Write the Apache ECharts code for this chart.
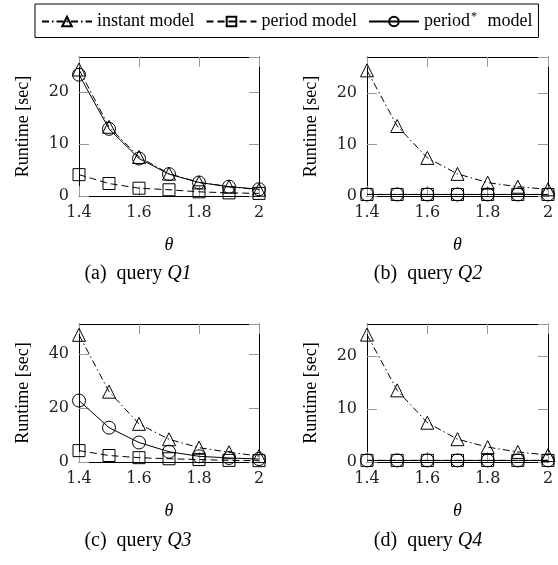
<!DOCTYPE html>
<html>
<head>
<meta charset="utf-8">
<script src="https://cdn.jsdelivr.net/npm/echarts@6/dist/echarts.min.js"></script>
<style>html,body{margin:0;padding:0;background:#fff}#c{width:558px;height:565px}</style>
</head>
<body>
<div id="c"></div>
<script>
const thetas = [1.4, 1.5, 1.6, 1.7, 1.8, 1.9, 2.0];
const xTickLabels = ['1.4', '1.6', '1.8', '2'];
const seriesNames = ['instant model', 'period model', 'period* model'];

const q1Instant    = [24.3, 13.3, 7.5, 4.3, 2.6, 1.8, 1.2];
const q1Period     = [4.1, 2.4, 1.5, 1.2, 0.8, 0.6, 0.5];
const q1PeriodStar = [23.3, 12.9, 7.2, 4.2, 2.6, 1.8, 1.3];

const q2Instant    = [24.4, 13.6, 7.4, 4.3, 2.6, 1.8, 1.3];
const q2Period     = [0.3, 0.3, 0.3, 0.3, 0.3, 0.3, 0.3];
const q2PeriodStar = [0.3, 0.3, 0.3, 0.3, 0.3, 0.3, 0.3];

const q3Instant    = [47.0, 26.0, 14.1, 8.4, 5.3, 3.6, 2.2];
const q3Period     = [4.2, 2.4, 1.6, 1.2, 0.9, 0.6, 0.5];
const q3PeriodStar = [22.7, 12.7, 7.2, 3.8, 2.1, 1.5, 1.1];

const q4Instant    = [24.0, 13.5, 7.4, 4.3, 2.8, 1.9, 1.3];
const q4Period     = [0.3, 0.3, 0.3, 0.3, 0.3, 0.3, 0.3];
const q4PeriodStar = [0.3, 0.3, 0.3, 0.3, 0.3, 0.3, 0.3];

const panels = [
  {caption: ['(a)  query ', 'Q1'], data: [q1Instant, q1Period, q1PeriodStar], ymax: 26.7, yint: 10},
  {caption: ['(b)  query ', 'Q2'], data: [q2Instant, q2Period, q2PeriodStar], ymax: 27.0, yint: 10},
  {caption: ['(c)  query ', 'Q3'], data: [q3Instant, q3Period, q3PeriodStar], ymax: 51.0, yint: 20},
  {caption: ['(d)  query ', 'Q4'], data: [q4Instant, q4Period, q4PeriodStar], ymax: 26.0, yint: 10}
];

const gridPos = [
  {left: 79, top: 57, width: 180, height: 139},
  {left: 367, top: 57, width: 181, height: 139},
  {left: 79, top: 324, width: 180, height: 138},
  {left: 367, top: 324, width: 181, height: 138}
];
const captionPos = [[138, 274], [428, 274], [138, 541], [428, 541]];

const SERIF = '"Liberation Serif", "Times New Roman", serif';
const TICKFONT = '"DejaVu Serif", serif';
const lineTypes = [[7, 3, 1.5, 3], [7, 4], 'solid'];
const symbols = ['triangle', 'rect', 'circle'];
const symbolSizes = [13, 12, 13];
const tickColor = '#999';

const grid = [], xAxis = [], yAxis = [], series = [], graphic = [];
panels.forEach((p, i) => {
  grid.push(Object.assign({containLabel: false}, gridPos[i]));
  const xi = xAxis.length;
  xAxis.push({
    type: 'value', gridIndex: i, position: 'bottom', min: 1.4, max: 2.0, interval: 0.2,
    name: 'θ', nameLocation: 'middle', nameGap: 40,
    nameTextStyle: {fontFamily: SERIF, fontStyle: 'italic', fontSize: 18, color: '#000'},
    axisLine: {show: true, onZero: false, lineStyle: {color: '#000', width: 1}},
    axisTick: {show: true, inside: true, length: 10, lineStyle: {color: tickColor, width: 1}},
    axisLabel: {margin: 9, fontFamily: TICKFONT, fontSize: 16, color: '#222',
      formatter: v => String(parseFloat(v.toFixed(1)))},
    splitLine: {show: false}
  });
  xAxis.push({
    type: 'value', gridIndex: i, position: 'top', min: 1.4, max: 2.0, interval: 0.2,
    axisLine: {show: true, onZero: false, lineStyle: {color: '#000', width: 1}},
    axisTick: {show: true, inside: true, length: 10, lineStyle: {color: tickColor, width: 1}},
    axisLabel: {show: false}, splitLine: {show: false}
  });
  const yi = yAxis.length;
  yAxis.push({
    type: 'value', gridIndex: i, position: 'left', min: 0, max: p.ymax, interval: p.yint,
    name: 'Runtime [sec]', nameLocation: 'middle', nameGap: 47, nameRotate: 90,
    nameTextStyle: {fontFamily: SERIF, fontSize: 18, color: '#000'},
    axisLine: {show: true, onZero: false, lineStyle: {color: '#000', width: 1}},
    axisTick: {show: true, inside: true, length: 10, lineStyle: {color: tickColor, width: 1}},
    axisLabel: {margin: 10, fontFamily: TICKFONT, fontSize: 16, color: '#222', showMaxLabel: false,
      formatter: v => (Math.abs(v / p.yint - Math.round(v / p.yint)) < 1e-6 ? String(v) : '')},
    splitLine: {show: false}
  });
  yAxis.push({
    type: 'value', gridIndex: i, position: 'right', min: 0, max: p.ymax, interval: p.yint,
    axisLine: {show: true, onZero: false, lineStyle: {color: '#000', width: 1}},
    axisTick: {show: true, inside: true, length: 10, lineStyle: {color: tickColor, width: 1}},
    axisLabel: {show: false}, splitLine: {show: false}
  });
  p.data.forEach((vals, k) => {
    series.push({
      name: seriesNames[k], type: 'line', xAxisIndex: xi, yAxisIndex: yi,
      data: thetas.map((t, j) => [t, vals[j]]),
      symbol: symbols[k], symbolSize: symbolSizes[k], showAllSymbol: true,
      lineStyle: {color: '#000', width: 1, type: lineTypes[k]},
      itemStyle: {color: 'rgba(255,255,255,0)', borderColor: '#000', borderWidth: 1},
      z: 3 + k, animation: false, silent: true
    });
  });
  graphic.push({
    type: 'text', x: captionPos[i][0], y: captionPos[i][1],
    style: {
      text: p.caption[0] + '{it|' + p.caption[1] + '}',
      rich: {it: {fontStyle: 'italic', fontFamily: SERIF, fontSize: 20, fill: '#000'}},
      fontFamily: SERIF, fontSize: 20, fill: '#000', align: 'center', verticalAlign: 'middle'
    }
  });
});

const chart = echarts.init(document.getElementById('c'), null, {renderer: 'canvas'});
chart.setOption({
  backgroundColor: '#fff',
  animation: false,
  legend: {
    data: seriesNames, left: 35, top: 4, orient: 'horizontal',
    padding: [7, 6, 7, 6], borderColor: '#000', borderWidth: 1, borderRadius: 0,
    itemWidth: 50, itemHeight: 12, itemGap: 11,
    textStyle: {fontFamily: SERIF, fontSize: 18, color: '#000',
      rich: {sup: {fontFamily: SERIF, fontSize: 12, color: '#000', padding: [0, 6, 9, 1]}}},
    formatter: name => name === 'period* model' ? 'period{sup|*} model' : name,
    selectedMode: false
  },
  grid, xAxis, yAxis, series, graphic
});
</script>
</body>
</html>
